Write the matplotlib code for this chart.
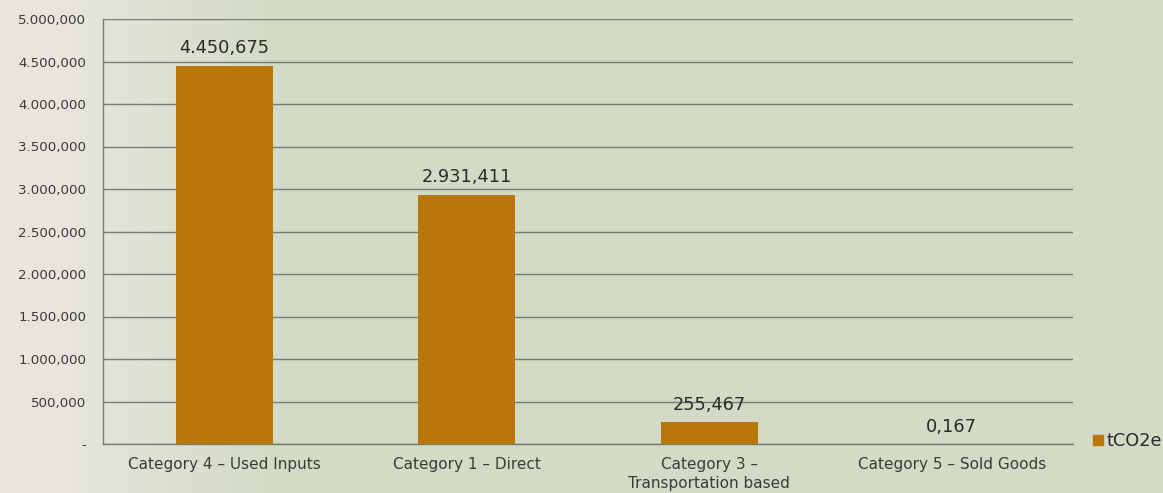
import numpy as np
import matplotlib
matplotlib.use("Agg")
import matplotlib.pyplot as plt
from matplotlib.lines import Line2D

categories = ["Category 4 – Used Inputs", "Category 1 – Direct",
              "Category 3 –\nTransportation based", "Category 5 – Sold Goods"]
values = [4450.675, 2931.411, 255.467, 0.167]
series_name = "tCO2e"
yticks = [0, 500, 1000, 1500, 2000, 2500, 3000, 3500, 4000, 4500, 5000]

def fmt(v):
    if v == 0:
        return "-"
    s = f"{v:,.3f}"
    return s.replace(",", "X").replace(".", ",").replace("X", ".")

plt.rcParams['font.family'] = ['DejaVu Sans']
W, H = 1163, 493
fig = plt.figure(figsize=(W / 100, H / 100), dpi=100)
fig.patch.set_facecolor("#d6dcc8")

# background: paper-like gradient (lighter on the left)
bg = fig.add_axes([0, 0, 1, 1], zorder=-10)
xx = np.linspace(0, 1, 400)
yy = np.linspace(0, 1, 200)
X, Y = np.meshgrid(xx, yy)
light = np.array([0.91, 0.90, 0.87])
green = np.array([0.83, 0.86, 0.78])
t = np.clip((X - 0.05) / 0.18, 0, 1)
img = light[None, None, :] * (1 - t[..., None]) + green[None, None, :] * t[..., None]
bg.imshow(img, extent=[0, 1, 0, 1], aspect="auto", origin="lower")
bg.axis("off")

ax = fig.add_axes([103 / W, 49 / H, 970 / W, 425 / H])
ax.set_facecolor("none")
x = np.arange(len(categories))
bars = ax.bar(x, values, width=0.4, color="#b87708", zorder=3, label=series_name)
ax.set_xlim(-0.5, len(categories) - 0.5)
ax.set_ylim(0, 5000)
ax.set_yticks(yticks)
ax.set_yticklabels([fmt(v) for v in yticks], fontsize=9.6, color="#3a3a3a")
ax.set_xticks(x)
ax.set_xticklabels(categories, fontsize=11, color="#3a3a3a", linespacing=1.3)
ax.tick_params(axis="y", length=0, pad=12)
ax.tick_params(axis="x", length=0, pad=9.5)
ax.grid(axis="y", color="#7a7a72", linewidth=1, zorder=1)
for s in ["top", "right"]:
    ax.spines[s].set_visible(False)
for s in ["left", "bottom"]:
    ax.spines[s].set_color("#7a7a72")
    ax.spines[s].set_linewidth(1)

for xi, v in zip(x, values):
    ax.annotate(fmt(v), (xi, v), xytext=(0, 6), textcoords="offset points",
                ha="center", va="bottom", fontsize=12.8, color="#2a2a2a")

handle = Line2D([], [], marker="s", linestyle="none", color="#b87708", markersize=7.5)
fig.legend([handle], [series_name], loc="center left",
           bbox_to_anchor=(1083 / W, 1 - 441 / H), frameon=False,
           fontsize=12.8, handletextpad=0.0, labelcolor="#2a2a2a",
           borderaxespad=0, handlelength=0.9)

fig.savefig("out.png", dpi=100, facecolor=fig.get_facecolor())
